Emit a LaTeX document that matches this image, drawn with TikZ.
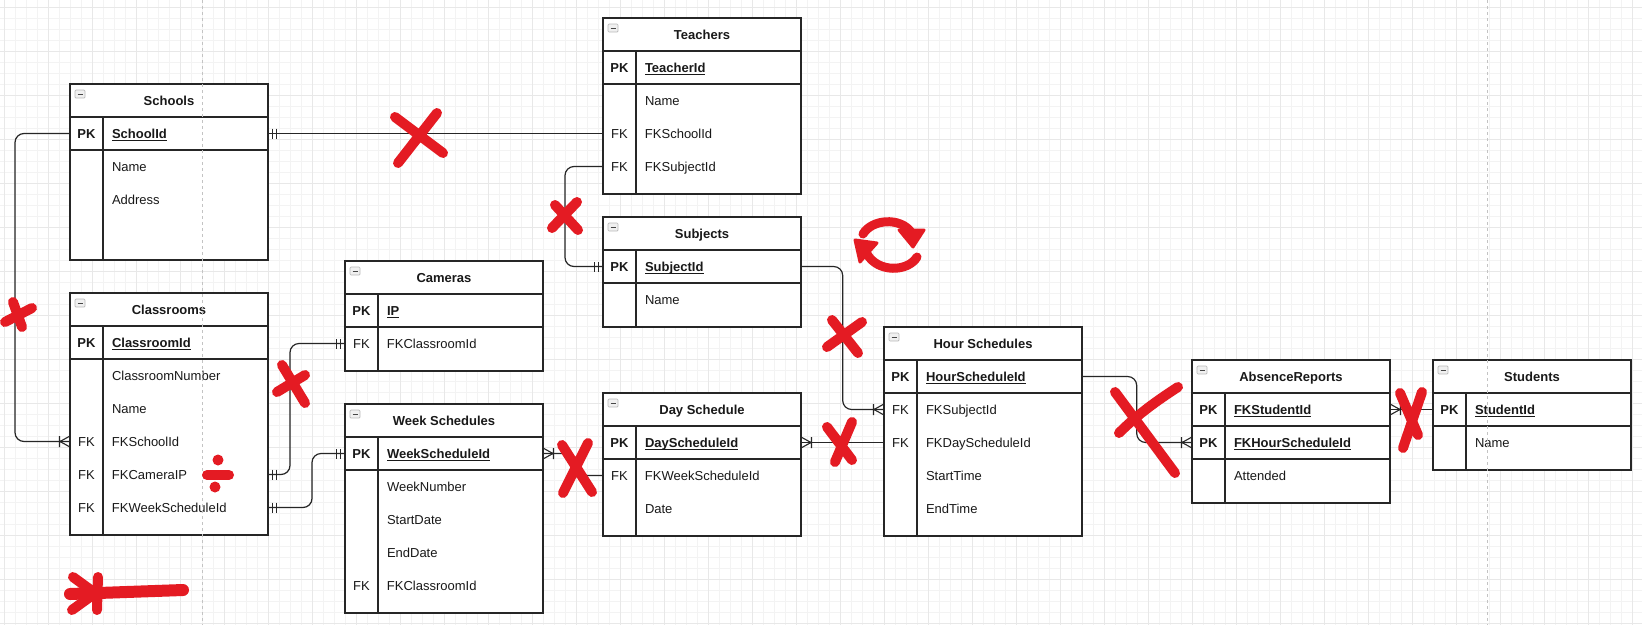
\documentclass[tikz,border=0pt]{standalone}
\usepackage{fontspec}
\setmainfont{Liberation Sans}
\usetikzlibrary{calc}
\definecolor{linec}{RGB}{38,38,38}
\definecolor{txtc}{RGB}{25,25,25}
\definecolor{inkred}{RGB}{228,27,35}
\definecolor{gridmin}{RGB}{243,243,243}
\definecolor{gridmaj}{RGB}{232,232,232}
\definecolor{pagebrk}{RGB}{195,195,195}

\newcommand{\erow}[2]{\makebox[33pt]{#1}\hspace{9pt}#2}
\newcommand{\pkul}[1]{\setbox0=\hbox{#1}\rlap{\rule[-3pt]{\wd0}{0.9pt}}\box0}

\tikzset{
  tbl/.style={draw=linec, line width=1.2pt, fill=white, minimum width=198pt,
    anchor=north west, inner sep=0pt, outer sep=0pt},
  ttl/.style={draw=linec, line width=1.2pt, minimum width=198pt, minimum height=33pt,
    anchor=north west, inner sep=0pt, outer sep=0pt, text=txtc,
    font=\fontsize{13}{15}\selectfont\bfseries, text height=9.3pt, text depth=0pt},
  fld/.style={text width=198pt, minimum height=33pt, anchor=north west, inner sep=0pt,
    outer sep=0pt, align=left, text=txtc, font=\fontsize{13}{15}\selectfont,
    text height=9.3pt, text depth=0pt},
  pkrow/.style={fld, draw=linec, line width=1.2pt, font=\fontsize{13}{15}\selectfont\bfseries},
  sepl/.style={draw=linec, line width=1.2pt},
  rel/.style={draw=linec, line width=1.2pt, rounded corners=9pt},
  ink/.style={draw=inkred, line width=10pt, line cap=round, line join=round},
  mandone/.pic={\draw[sepl, line width=1.1pt] (4.5,-5) -- (4.5,5) (8.5,-5) -- (8.5,5);},
  onemany/.pic={\draw[sepl, line width=1.1pt] (0,-5.5) -- (10,0) -- (0,5.5) (10.5,-5.5) -- (10.5,5.5);},
  fold/.pic={\draw[draw=gray!55, fill=gray!12, rounded corners=1pt, line width=0.7pt] (0,0) rectangle (10,8);
    \draw[gray!55!black, line width=0.9pt] (2.5,4) -- (7.5,4);}
}

\begin{document}
\begin{tikzpicture}[x=1pt, y=-1pt]
\useasboundingbox (0,0) rectangle (1642,625);
\fill[white] (0,0) rectangle (1642,625);

% grid
\foreach \gx in {0,...,149} \draw[gridmin, line width=0.6pt] ({4.3+11*\gx},0) -- ({4.3+11*\gx},625);
\foreach \gy in {0,...,56} \draw[gridmin, line width=0.6pt] (0,{7.3+11*\gy}) -- (1642,{7.3+11*\gy});
\foreach \gx in {0,...,37} \draw[gridmaj, line width=0.6pt] ({4.3+44*\gx},0) -- ({4.3+44*\gx},625);
\foreach \gy in {0,...,14} \draw[gridmaj, line width=0.6pt] (0,{7.3+44*\gy}) -- (1642,{7.3+44*\gy});

% Schools
\node[tbl, minimum height=176pt] (sch) at (70,84) {};
\node[ttl] (sch-t) at (70,84) {Schools};
\node[pkrow] (sch-pk) at (70,117) {\erow{PK}{\pkul{SchoolId}}};
\node[fld] (sch-n) at (70,150) {\erow{}{Name}};
\node[fld] (sch-a) at (70,183) {\erow{}{Address}};
\draw[sepl] ([xshift=33pt]sch-pk.north west) -- ([xshift=33pt]sch.south west);
\pic at ([shift={(5,6)}]sch.north west) {fold};

% Classrooms
\node[tbl, minimum height=242pt] (cla) at (70,293) {};
\node[ttl] (cla-t) at (70,293) {Classrooms};
\node[pkrow] (cla-pk) at (70,326) {\erow{PK}{\pkul{ClassroomId}}};
\node[fld] (cla-num) at (70,359) {\erow{}{ClassroomNumber}};
\node[fld] (cla-n) at (70,392) {\erow{}{Name}};
\node[fld] (cla-sch) at (70,425) {\erow{FK}{FKSchoolId}};
\node[fld] (cla-cam) at (70,458) {\erow{FK}{FKCameraIP}};
\node[fld] (cla-wee) at (70,491) {\erow{FK}{FKWeekScheduleId}};
\draw[sepl] ([xshift=33pt]cla-pk.north west) -- ([xshift=33pt]cla.south west);
\pic at ([shift={(5,6)}]cla.north west) {fold};

% Cameras
\node[tbl, minimum height=110pt] (cam) at (345,261) {};
\node[ttl] (cam-t) at (345,261) {Cameras};
\node[pkrow] (cam-pk) at (345,294) {\erow{PK}{\pkul{IP}}};
\node[fld] (cam-fk) at (345,327) {\erow{FK}{FKClassroomId}};
\draw[sepl] ([xshift=33pt]cam-pk.north west) -- ([xshift=33pt]cam.south west);
\pic at ([shift={(5,6)}]cam.north west) {fold};

% Week Schedules
\node[tbl, minimum height=209pt] (wee) at (345,404) {};
\node[ttl] (wee-t) at (345,404) {Week Schedules};
\node[pkrow] (wee-pk) at (345,437) {\erow{PK}{\pkul{WeekScheduleId}}};
\node[fld] (wee-num) at (345,470) {\erow{}{WeekNumber}};
\node[fld] (wee-sd) at (345,503) {\erow{}{StartDate}};
\node[fld] (wee-ed) at (345,536) {\erow{}{EndDate}};
\node[fld] (wee-fk) at (345,569) {\erow{FK}{FKClassroomId}};
\draw[sepl] ([xshift=33pt]wee-pk.north west) -- ([xshift=33pt]wee.south west);
\pic at ([shift={(5,6)}]wee.north west) {fold};

% Teachers
\node[tbl, minimum height=176pt] (tea) at (603,18) {};
\node[ttl] (tea-t) at (603,18) {Teachers};
\node[pkrow] (tea-pk) at (603,51) {\erow{PK}{\pkul{TeacherId}}};
\node[fld] (tea-n) at (603,84) {\erow{}{Name}};
\node[fld] (tea-sch) at (603,117) {\erow{FK}{FKSchoolId}};
\node[fld] (tea-sub) at (603,150) {\erow{FK}{FKSubjectId}};
\draw[sepl] ([xshift=33pt]tea-pk.north west) -- ([xshift=33pt]tea.south west);
\pic at ([shift={(5,6)}]tea.north west) {fold};

% Subjects
\node[tbl, minimum height=110pt] (sub) at (603,217) {};
\node[ttl] (sub-t) at (603,217) {Subjects};
\node[pkrow] (sub-pk) at (603,250) {\erow{PK}{\pkul{SubjectId}}};
\node[fld] (sub-n) at (603,283) {\erow{}{Name}};
\draw[sepl] ([xshift=33pt]sub-pk.north west) -- ([xshift=33pt]sub.south west);
\pic at ([shift={(5,6)}]sub.north west) {fold};

% Day Schedule
\node[tbl, minimum height=143pt] (day) at (603,393) {};
\node[ttl] (day-t) at (603,393) {Day Schedule};
\node[pkrow] (day-pk) at (603,426) {\erow{PK}{\pkul{DayScheduleId}}};
\node[fld] (day-fk) at (603,459) {\erow{FK}{FKWeekScheduleId}};
\node[fld] (day-d) at (603,492) {\erow{}{Date}};
\draw[sepl] ([xshift=33pt]day-pk.north west) -- ([xshift=33pt]day.south west);
\pic at ([shift={(5,6)}]day.north west) {fold};

% Hour Schedules
\node[tbl, minimum height=209pt] (hou) at (884,327) {};
\node[ttl] (hou-t) at (884,327) {Hour Schedules};
\node[pkrow] (hou-pk) at (884,360) {\erow{PK}{\pkul{HourScheduleId}}};
\node[fld] (hou-sub) at (884,393) {\erow{FK}{FKSubjectId}};
\node[fld] (hou-day) at (884,426) {\erow{FK}{FKDayScheduleId}};
\node[fld] (hou-st) at (884,459) {\erow{}{StartTime}};
\node[fld] (hou-et) at (884,492) {\erow{}{EndTime}};
\draw[sepl] ([xshift=33pt]hou-pk.north west) -- ([xshift=33pt]hou.south west);
\pic at ([shift={(5,6)}]hou.north west) {fold};

% AbsenceReports
\node[tbl, minimum height=143pt] (abs) at (1192,360) {};
\node[ttl] (abs-t) at (1192,360) {AbsenceReports};
\node[pkrow] (abs-stu) at (1192,393) {\erow{PK}{\pkul{FKStudentId}}};
\node[pkrow] (abs-hou) at (1192,426) {\erow{PK}{\pkul{FKHourScheduleId}}};
\node[fld] (abs-att) at (1192,459) {\erow{}{Attended}};
\draw[sepl] ([xshift=33pt]abs-stu.north west) -- ([xshift=33pt]abs.south west);
\pic at ([shift={(5,6)}]abs.north west) {fold};

% Students
\node[tbl, minimum height=110pt] (stu) at (1433,360) {};
\node[ttl] (stu-t) at (1433,360) {Students};
\node[pkrow] (stu-pk) at (1433,393) {\erow{PK}{\pkul{StudentId}}};
\node[fld] (stu-n) at (1433,426) {\erow{}{Name}};
\draw[sepl] ([xshift=33pt]stu-pk.north west) -- ([xshift=33pt]stu.south west);
\pic at ([shift={(5,6)}]stu.north west) {fold};

% relations
\draw[rel] (sch-pk.east) -- (tea-sch.west);
\draw[rel] (sch-pk.west) -- ++(-55,0) |- (cla-sch.west);
\draw[rel] (cla-cam.east) -- ++(22,0) |- (cam-fk.west);
\draw[rel] (cla-wee.east) -- ++(44,0) |- (wee-pk.west);
\draw[rel] (wee-pk.east) -- ++(30,0) |- (day-fk.west);
\draw[rel] (day-pk.east) -- (hou-day.west);
\draw[rel] (sub-pk.east) -- ++(41.7,0) |- (hou-sub.west);
\draw[rel] (tea-sub.west) -- ++(-38,0) |- (sub-pk.west);
\draw[rel] (hou-pk.east) -- ++(54.7,0) |- (abs-hou.west);
\draw[rel] (stu-pk.west) -- (abs-stu.east);

\pic at (sch-pk.east) {mandone};
\pic[rotate=180] at (cla-sch.west) {onemany};
\pic at (cla-cam.east) {mandone};
\pic[rotate=180] at (cam-fk.west) {mandone};
\pic at (cla-wee.east) {mandone};
\pic[rotate=180] at (wee-pk.west) {mandone};
\pic at (wee-pk.east) {onemany};
\pic at (day-pk.east) {onemany};
\pic[rotate=180] at (hou-sub.west) {onemany};
\pic[rotate=180] at (sub-pk.west) {mandone};
\pic[rotate=180] at (abs-hou.west) {onemany};
\pic at (abs-stu.east) {onemany};

% page breaks
\draw[pagebrk, line width=0.8pt, dash pattern=on 3pt off 3pt] (202,0) -- (202,625);
\draw[pagebrk, line width=0.8pt, dash pattern=on 3pt off 3pt] (1487,0) -- (1487,625);

% red marks
\draw[ink] (395,117) -- (443,153) (437,113) -- (398,163);
\draw[ink] (5,322) -- (32,308) (13,302) -- (22,327);
\draw[ink] (282,365) -- (305,403) (277,392) -- (305,375);
\fill[inkred] (218,460) circle (5.5) (215,487) circle (5.5);
\draw[ink] (207,475) -- (229,475);
\draw[ink, line width=12pt] (70,594) -- (183,590);
\draw[ink] (73,577) -- (95,593) (98,577) -- (97,610) (72,610) -- (90,597);
\draw[ink] (555,205) -- (578,230) (577,202) -- (552,228);
\draw[ink, line width=9pt] (863,234) .. controls (872,219) and (900,217) .. (911,232);
\filldraw[inkred, line width=3pt, line join=round] (899,230) -- (924,230) -- (913,247) -- cycle;
\draw[ink, line width=9pt] (917,257) .. controls (908,272) and (878,273) .. (867,254);
\filldraw[inkred, line width=3pt, line join=round] (855,240) -- (877,243) -- (860,262) -- cycle;
\draw[ink] (832,320) -- (858,353) (862,322) -- (827,347);
\draw[ink] (562,445) -- (592,492) (588,443) -- (563,493);
\draw[ink] (827,427) -- (852,460) (852,422) -- (835,462);
\draw[ink] (1115,392) -- (1175,473);
\draw[ink] (1178,387) .. controls (1158,400) and (1138,414) .. (1119,433);
\draw[ink] (1400,393) -- (1418,435) (1422,392) -- (1403,448);
\end{tikzpicture}
\end{document}
